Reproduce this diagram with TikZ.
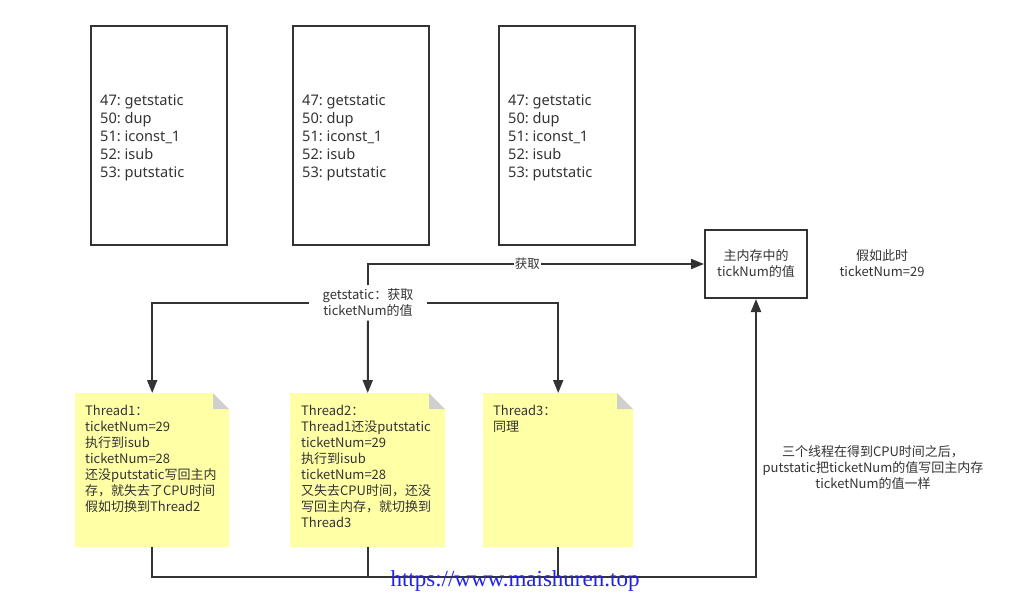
\documentclass[tikz,border=0pt]{standalone}
\usepackage{fontspec}
\setmainfont{Noto Sans CJK SC}
\newfontfamily\wmfont{Liberation Serif}
\newfontfamily\latinfont{Noto Sans}
\usetikzlibrary{arrows.meta}
\definecolor{ln}{HTML}{333333}
\definecolor{notey}{HTML}{FFFFA6}
\definecolor{foldc}{HTML}{CFCFCF}
\definecolor{txt}{HTML}{333333}
\definecolor{wmblue}{HTML}{2222EE}
\frenchspacing
\begin{document}
\begin{tikzpicture}[x=1pt,y=-1pt,
 codebox/.style={draw=ln, line width=2pt, minimum width=136pt, minimum height=219pt,
   anchor=north west},
 codetext/.style={anchor=west, inner sep=0pt, align=left,
   font=\latinfont\fontsize{14.6}{18}\selectfont, text=txt},
 notebox/.style={anchor=north west, minimum height=154pt, inner sep=0pt,
   path picture={
     \fill[notey] (path picture bounding box.south west) -- (path picture bounding box.north west)
       -- ([xshift=-16pt]path picture bounding box.north east)
       -- ([yshift=-16pt]path picture bounding box.north east)
       -- (path picture bounding box.south east) -- cycle;
     \fill[foldc] ([xshift=-16pt]path picture bounding box.north east)
       -- ([xshift=-16pt,yshift=-16pt]path picture bounding box.north east)
       -- ([yshift=-16pt]path picture bounding box.north east) -- cycle;}},
 notetext/.style={anchor=north west, align=left, inner sep=0pt, text=txt,
   font=\fontsize{13}{16}\selectfont},
 plain/.style={align=center, text=txt, font=\fontsize{13}{16}\selectfont, inner sep=1pt},
 conn/.style={draw=ln, line width=2pt},
 arr/.style={conn, -{Triangle[length=13pt,width=10pt]}}
]
\useasboundingbox (0,0) rectangle (1013,603);

% code boxes
\foreach \n/\x in {c1/90, c2/292, c3/498}{
  \node[codebox] (\n) at (\x,25) {};
  \node[codetext] (\n t) at ([xshift=10pt,yshift=-2.5pt]\n.west) {47: getstatic\\50: dup\\51: iconst\_1\\52: isub\\53: putstatic};
}

% main memory
\node[draw=ln, line width=2pt, minimum width=102pt, minimum height=68pt, anchor=north west,
  align=center, text=txt, font=\fontsize{13}{16}\selectfont, inner sep=0pt]
  (mm) at (704,229) {主内存中的\\tickNum的值};
\node[plain] (note0) at (882,263) {假如此时\\ticketNum=29};

% notes
\node[notebox, minimum width=154pt] (t1) at (75,393) {};
\node[notebox, minimum width=155pt] (t2) at (290,393) {};
\node[notebox, minimum width=150pt] (t3) at (483,393) {};
\node[notetext] (t1t) at (85,405) {Thread1：\\ticketNum=29\\执行到isub\\ticketNum=28\\还没putstatic写回主内\\存，就失去了CPU时间\\假如切换到Thread2};
\node[notetext] (t2t) at (301,405) {Thread2：\\Thread1还没putstatic\\ticketNum=29\\执行到isub\\ticketNum=28\\又失去CPU时间，还没\\写回主内存，就切换到\\Thread3};
\node[notetext] (t3t) at (493,405) {Thread3：\\同理};

% getstatic label
\node[align=center, text=txt, font=\fontsize{13}{16}\selectfont, fill=white,
  inner xsep=14pt, minimum height=34pt] (gs) at (368,303) {getstatic：获取\\ticketNum的值};

\draw[arr] (gs.west) -| (t1.north);
\draw[arr] (gs.east) -| (t3.north);
\draw[arr] (gs.south) -- (t2.north);
\draw[arr] (gs.north) |- (mm.west)
  node[pos=0.737, fill=white, text=txt, font=\fontsize{12.5}{16}\selectfont, inner sep=1pt] (lbl) {获取};

% bottom return
\coordinate (bot) at (0,577);
\draw[arr] (t1.south) -- (t1.south |- bot) -| (mm.south);
\draw[conn] (t2.south) -- (t2.south |- bot);
\draw[conn] (t3.south) -- (t3.south |- bot);

\node[plain] (rt) at (873,468) {三个线程在得到CPU时间之后，\\putstatic把ticketNum的值写回主内存\\ticketNum的值一样};

% watermark
\node[text=wmblue, font=\wmfont\fontsize{23}{23}\selectfont, inner sep=0pt] (wm) at (515,581) {https://www.maishuren.top};
\end{tikzpicture}
\end{document}
